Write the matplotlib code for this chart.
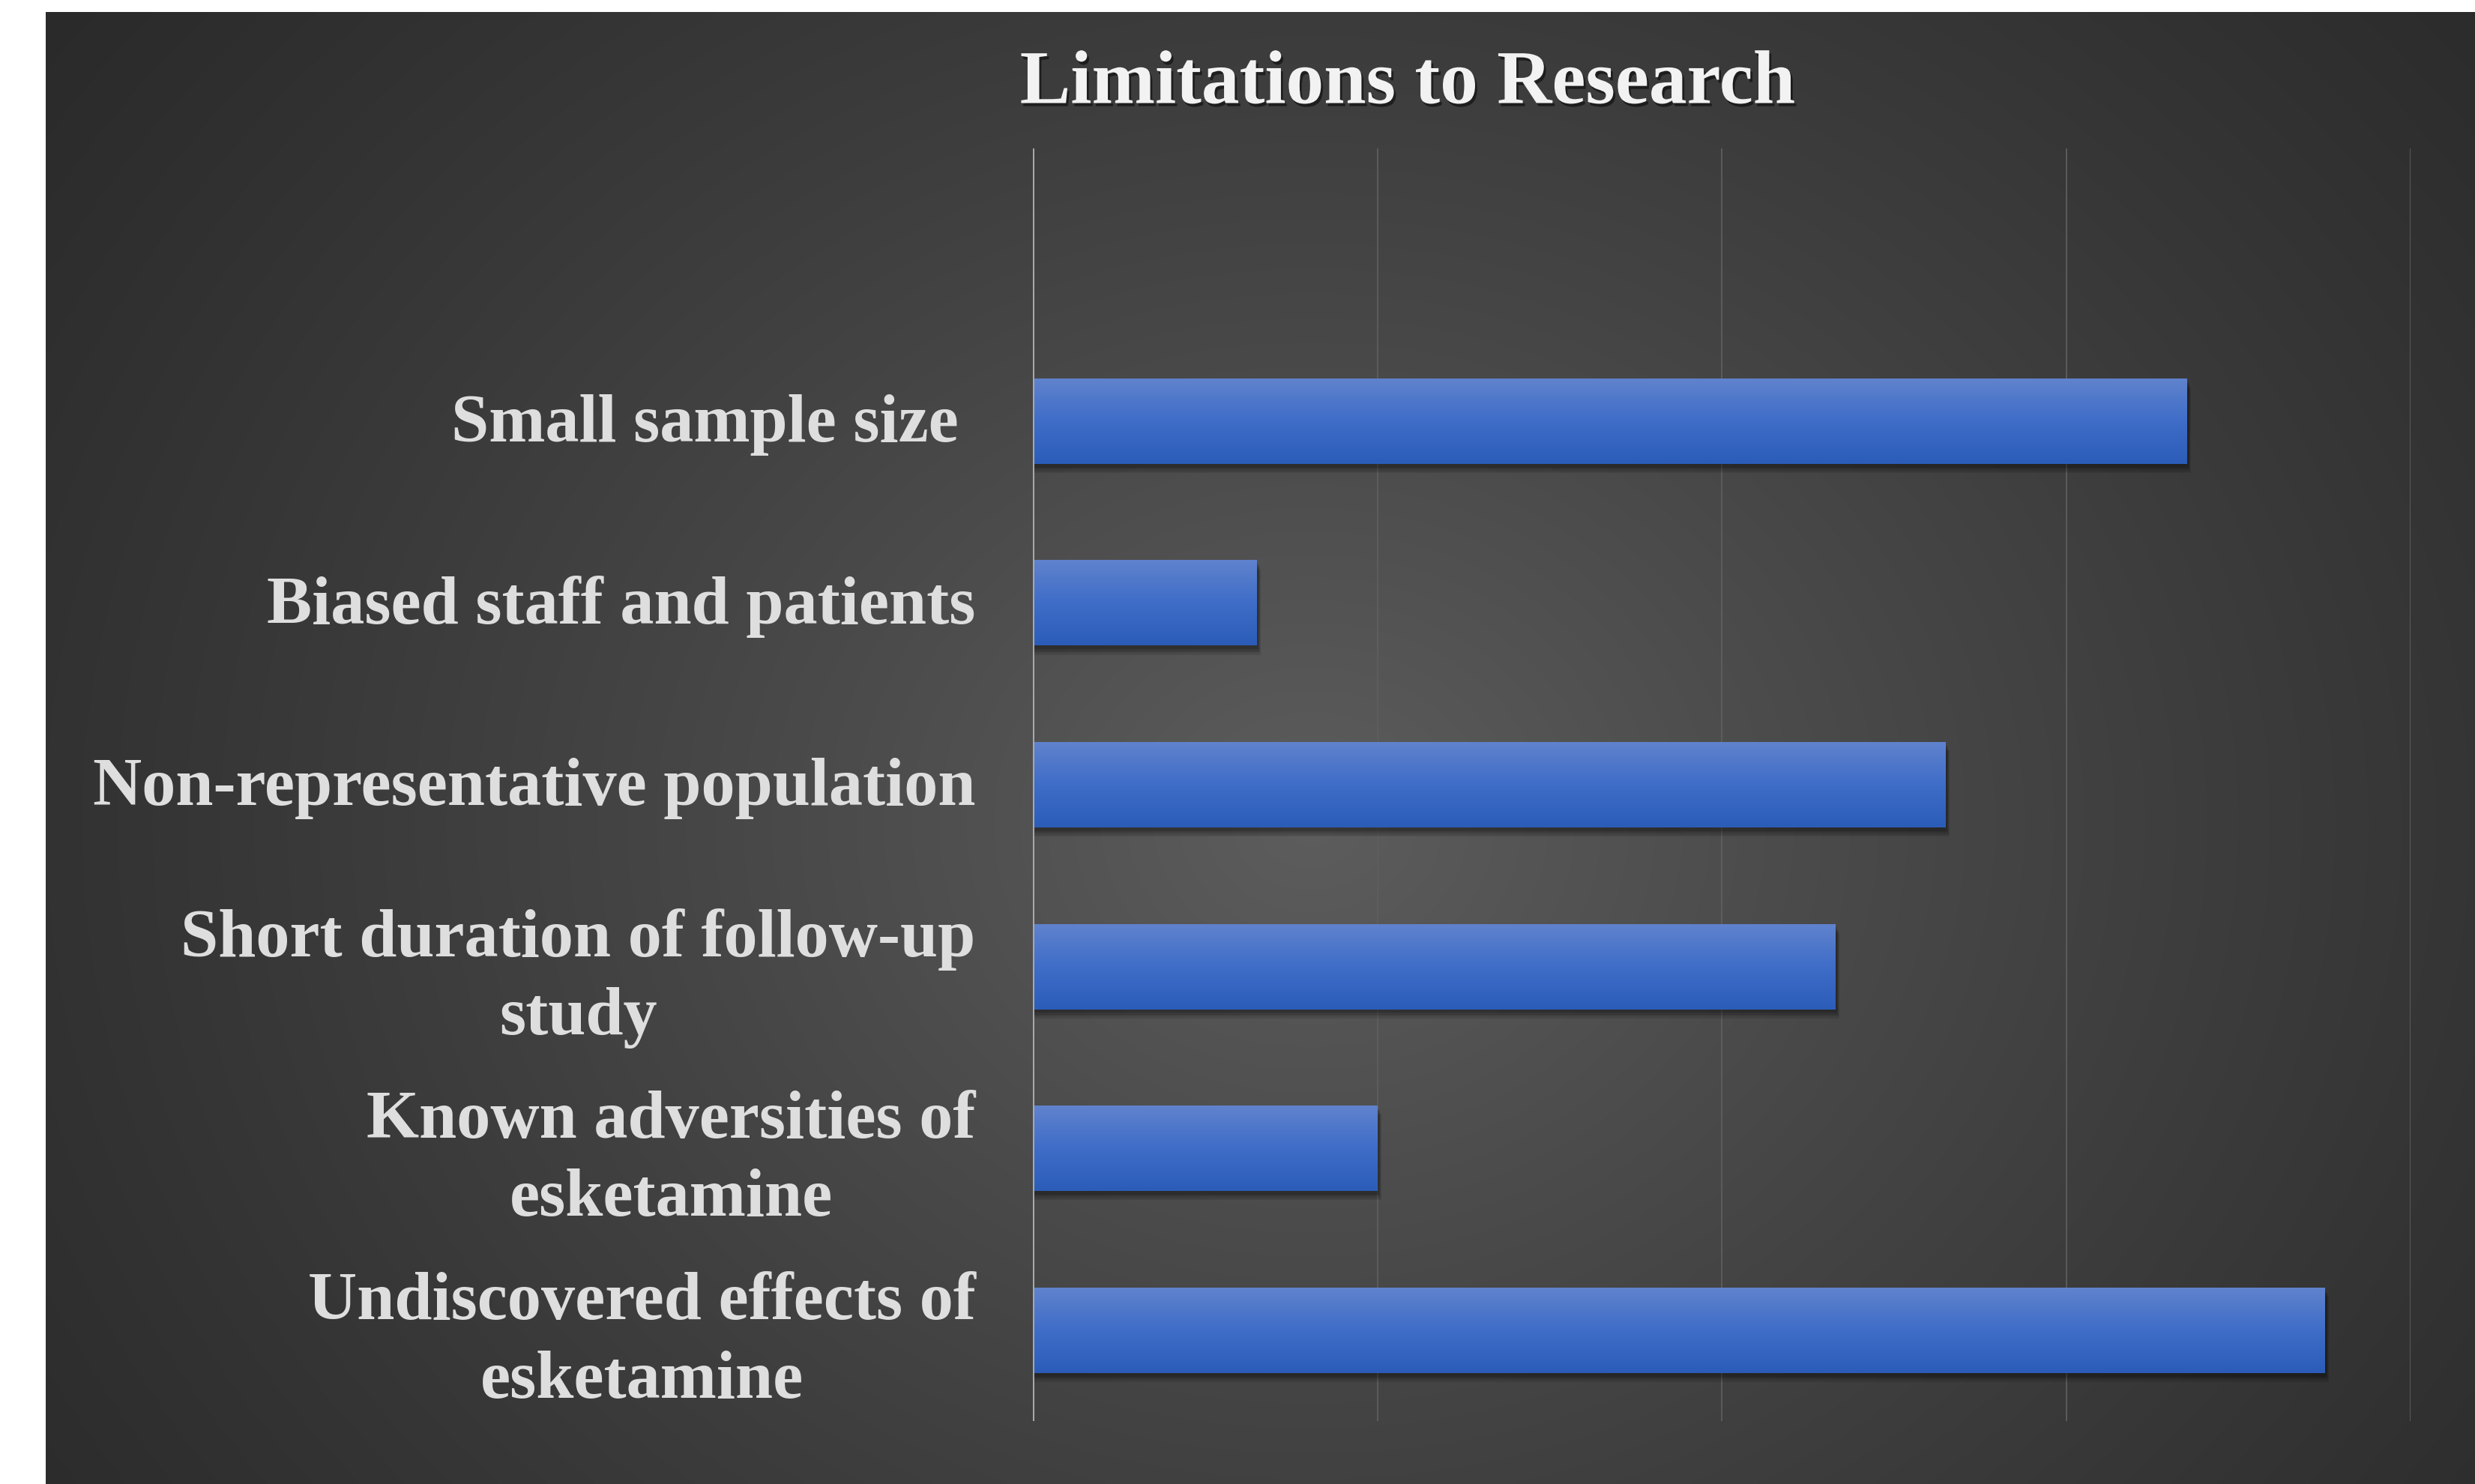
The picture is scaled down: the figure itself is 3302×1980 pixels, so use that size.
import numpy as np
import matplotlib
matplotlib.use('Agg')
import matplotlib.pyplot as plt
from matplotlib.colors import LinearSegmentedColormap
import matplotlib.patheffects as pe

# data (bottom to top, as drawn)
categories = ['Undiscovered effects of\nesketamine',
              'Known adversities of\nesketamine',
              'Short duration of follow-up\nstudy',
              'Non-representative population',
              'Biased staff and patients',
              'Small sample size ']
values = [3.75, 1.0, 2.33, 2.65, 0.65, 3.35]
title = 'Limitations to Research'

W, H = 3302, 1980
fig = plt.figure(figsize=(W / 100, H / 100), dpi=100)
fig.patch.set_facecolor('white')

# dark panel with radial gradient
bg = fig.add_axes([61 / W, 0, 1 - 61 / W, 1 - 16 / H], zorder=-10)
ph, pw = 400, 650
yy, xx = np.mgrid[0:ph, 0:pw]
cx, cy = 0.52 * pw, 0.55 * ph
r = np.sqrt(((xx - cx) / (0.75 * pw)) ** 2 + ((yy - cy) / (1.05 * ph)) ** 2)
t = np.clip(1 - r, 0, 1) ** 1.3
shade = 0.15 + (0.365 - 0.15) * t
bg.imshow(np.dstack([shade, shade, shade]), aspect='auto', interpolation='bilinear')
bg.axis('off')

ax = fig.add_axes([1378 / W, 1 - 1896 / H, (3216 - 1378) / W, (1896 - 198) / H])
ax.set_facecolor('none')

y = np.arange(len(categories))
h = 0.47

# soft shadows under bars
for k, a in enumerate([0.10, 0.10, 0.12, 0.15]):
    off = 0.05 - k * 0.01
    ax.barh(y - off, np.array(values) + 0.012 - k * 0.002, height=h, left=0,
            color='black', alpha=a, zorder=2, linewidth=0)

bars = ax.barh(y, values, height=h, color='#3f6cc4', zorder=3, linewidth=0)
blue = LinearSegmentedColormap.from_list('b', ['#2b5db8', '#3f6dc8', '#6083cd'])
grad = np.linspace(0, 1, 100).reshape(-1, 1)
for b, yi, v in zip(bars, y, values):
    im = ax.imshow(grad, extent=[0, v, yi - h / 2, yi + h / 2], origin='lower',
                   aspect='auto', cmap=blue, zorder=4, interpolation='bilinear')
    im.set_clip_path(b)

ax.set_xlim(0, 4)
ax.set_ylim(-0.5, 6.5)
ax.set_xticks([0, 1, 2, 3, 4])
ax.set_xticklabels([])
ax.grid(axis='x', color='#5e5e5e', linewidth=1.3, zorder=1)
ax.axvline(0, color='#a8a8a8', linewidth=2.2, zorder=5)
for s in ax.spines.values():
    s.set_visible(False)
ax.tick_params(length=0)

ax.set_yticks(y + 0.02)
ax.set_yticklabels(categories, fontsize=65, fontweight='bold', color='#dedede',
                   family='Liberation Serif', linespacing=1.36)
ax.tick_params(axis='y', pad=55)
for lab in ax.get_yticklabels():
    lab.set_multialignment('center')

fig.text(1878 / W, 1 - 113 / H, title, ha='center', va='center', fontsize=73,
         fontweight='bold', color='#f2f2f2', family='Liberation Serif',
         path_effects=[pe.withSimplePatchShadow(offset=(2, -3), shadow_rgbFace='black', alpha=0.5)])

fig.savefig('out.png', dpi=100, facecolor=fig.get_facecolor())
